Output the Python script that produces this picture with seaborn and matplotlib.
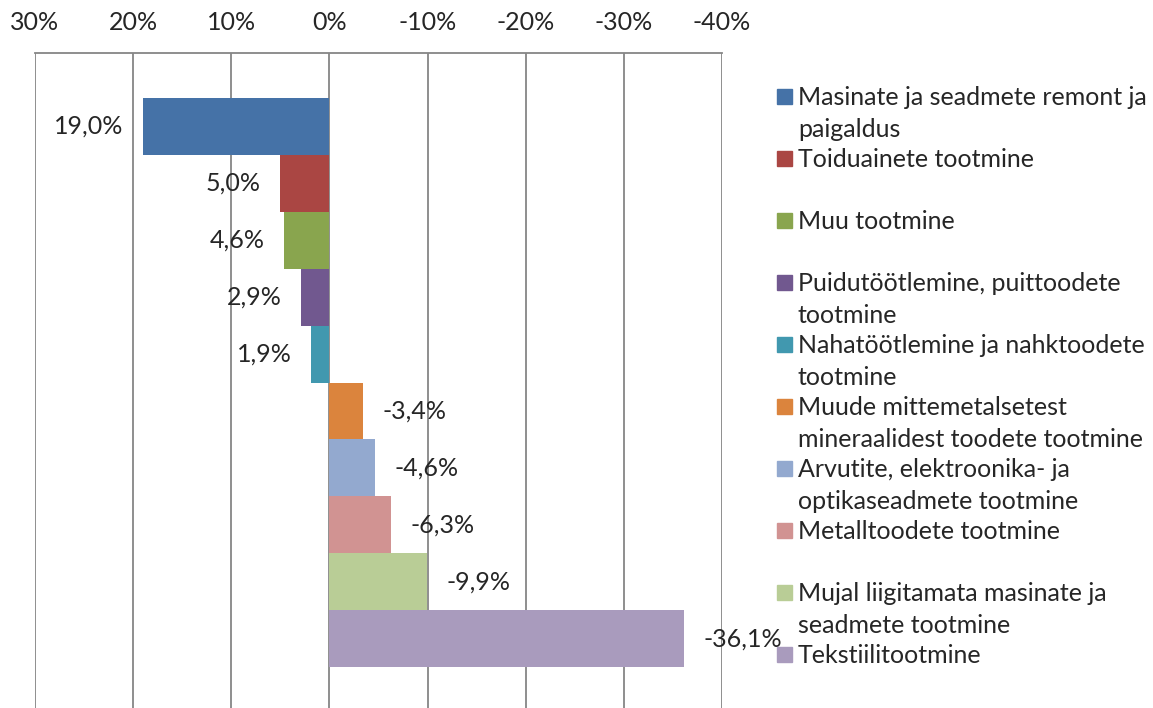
import matplotlib
matplotlib.use("Agg")
import matplotlib.pyplot as plt
import seaborn as sns
import pandas as pd
from matplotlib.patches import Rectangle

categories = [
    "Masinate ja seadmete remont ja\npaigaldus",
    "Toiduainete tootmine",
    "Muu tootmine",
    "Puidutöötlemine, puittoodete\ntootmine",
    "Nahatöötlemine ja nahktoodete\ntootmine",
    "Muude mittemetalsetest\nmineraalidest toodete tootmine",
    "Arvutite, elektroonika- ja\noptikaseadmete tootmine",
    "Metalltoodete tootmine",
    "Mujal liigitamata masinate ja\nseadmete tootmine",
    "Tekstiilitootmine",
]
values = [19.0, 5.0, 4.6, 2.9, 1.9, -3.4, -4.6, -6.3, -9.9, -36.1]
colors = ["#4572A7", "#AA4643", "#89A54E", "#71588F", "#4198AF",
          "#DB843D", "#93A9CF", "#D19392", "#B9CD96", "#A99BBD"]
xticks = [30, 20, 10, 0, -10, -20, -30, -40]

FS = 18

sns.set_style("white")
plt.rcParams["font.family"] = ["Lato", "DejaVu Sans"]

df = pd.DataFrame({"cat": categories, "val": values})

fig = plt.figure(figsize=(11.53, 7.08), dpi=100)
ax = fig.add_axes([35 / 1153, 1 - 712 / 708, (722 - 35) / 1153, (712 - 53) / 708])

sns.barplot(data=df, x="val", y="cat", hue="cat", order=categories,
            hue_order=categories, palette=colors, dodge=False, width=1,
            orient="h", legend=False, saturation=1, linewidth=0, ax=ax)

ax.set_xlim(30, -40)
ax.set_ylim(9.5 + 0.79, -0.5 - 0.79)
ax.set_xticks(xticks)
ax.set_xticklabels([f"{t}%" for t in xticks], fontsize=FS)
ax.xaxis.tick_top()
ax.tick_params(axis="x", length=0, pad=14)
ax.set_yticks([])
ax.set_xlabel("")
ax.set_ylabel("")
ax.grid(axis="x", color="#868686", linewidth=1.3)
ax.set_axisbelow(True)
for s in ["left", "right", "bottom"]:
    ax.spines[s].set_visible(False)
ax.spines["top"].set_color("#868686")
ax.spines["top"].set_linewidth(1.3)

for cont, v in zip(ax.containers, values):
    ax.bar_label(cont, labels=[f"{v:.1f}%".replace(".", ",")],
                 padding=14, fontsize=FS)

# legend, one slot per series, marker next to first text line
for i, (lab, c) in enumerate(zip(categories, colors)):
    y = 97 + i * 62.0
    fig.patches.append(Rectangle((777 / 1153, 1 - (y + 7) / 708), 15 / 1153, 15 / 708,
                                 transform=fig.transFigure, color=c))
    fig.text(798 / 1153, 1 - (y - 11) / 708, lab, fontsize=FS, va="top",
             ha="left", linespacing=1.45)

fig.savefig("out.png", dpi=100)
